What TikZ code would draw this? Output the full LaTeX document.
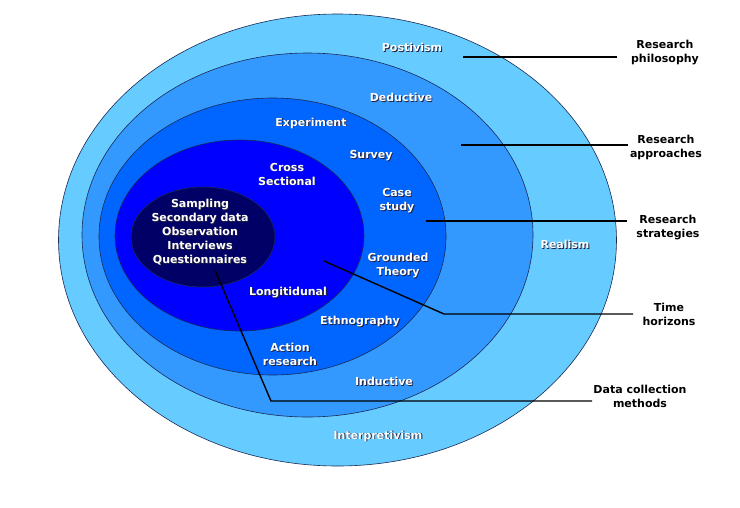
\documentclass[tikz,border=0pt]{standalone}
\usepackage{fontspec}
\setmainfont{DejaVu Sans}
\usetikzlibrary{shapes.geometric}
\definecolor{cA}{HTML}{66CCFF}
\definecolor{cB}{HTML}{3399FF}
\definecolor{cC}{HTML}{0066FF}
\definecolor{cD}{HTML}{0000FF}
\definecolor{cE}{HTML}{000066}
\definecolor{rim}{HTML}{1A2A55}
\definecolor{shd}{HTML}{202040}
\tikzset{
  ring/.style={ellipse, draw=rim, line width=0.6pt, inner sep=0pt},
  wtext/.style={text=white, font=\bfseries\fontsize{11}{14}\selectfont, align=center, inner sep=0pt},
  wsh/.style={text=shd, font=\bfseries\fontsize{11}{14}\selectfont, align=center, inner sep=0pt},
  btext/.style={text=black, font=\bfseries\fontsize{11}{14}\selectfont, align=center, inner sep=0pt},
  lead/.style={draw=black, line width=1.4pt}
}
\newcommand\wlab[3]{%
  \node[wsh, xshift=0.9pt, yshift=-0.9pt] at (#2) {#3};
  \node[wtext] (#1) at (#2) {#3};}
\begin{document}
\begin{tikzpicture}[x=1pt, y=-1pt]
\useasboundingbox[fill=white] (0,0) rectangle (740,507);
% rings
\node[ring, fill=cA, minimum width=558pt, minimum height=452pt] (e1) at (337.5,240) {};
\node[ring, fill=cB, minimum width=451pt, minimum height=364pt] (e2) at (307.5,235) {};
\node[ring, fill=cC, minimum width=347pt, minimum height=277pt] (e3) at (272.5,236.5) {};
\node[ring, fill=cD, minimum width=249pt, minimum height=191pt] (e4) at (239.5,235.5) {};
\node[ring, fill=cE, minimum width=144pt, minimum height=100pt] (e5) at (203,237) {};
% white labels
\wlab{pos}{412,47}{Postivism}
\wlab{ded}{401,97}{Deductive}
\wlab{exp}{311,123}{Experiment}
\wlab{sur}{371,156}{Survey}
\wlab{cro}{287,174}{Cross\\Sectional}
\wlab{cas}{397,201}{Case\\study}
\wlab{sam}{200,232.5}{Sampling\\Secondary data\\Observation\\Interviews\\Questionnaires}
\wlab{rea}{565,244}{Realism}
\wlab{gro}{398,266}{Grounded\\Theory}
\wlab{lon}{288,293}{Longitidunal}
\wlab{eth}{360,322}{Ethnography}
\wlab{act}{290,354}{Action\\research}
\wlab{ind}{384,381}{Inductive}
\wlab{int}{378,436}{Interpretivism}
% right labels
\node[btext] (lphil) at (665,53) {Research\\philosophy};
\node[btext] (lappr) at (666,147) {Research\\approaches};
\node[btext] (lstra) at (668,228) {Research\\strategies};
\node[btext] (ltime) at (669,314) {Time\\horizons};
\node[btext] (ldata) at (640,396) {Data collection\\methods};
% connector ends
\coordinate (p0) at (463,57);  \coordinate (p1) at (617,57);
\coordinate (a0) at (461,145); \coordinate (a1) at (628,145);
\coordinate (s0) at (426,221); \coordinate (s1) at (627,221);
\coordinate (t0) at (324,261); \coordinate (t1) at (444,314); \coordinate (t2) at (633,314);
\coordinate (d0) at (215,270); \coordinate (d1) at (271,401); \coordinate (d2) at (592,401);
\draw[lead] (p0) -- (p1);
\draw[lead] (a0) -- (a1);
\draw[lead] (s0) -- (s1);
\draw[lead] (t0) -- (t1) -- (t2);
\draw[lead] (d0) -- (d1) -- (d2);
\end{tikzpicture}
\end{document}
